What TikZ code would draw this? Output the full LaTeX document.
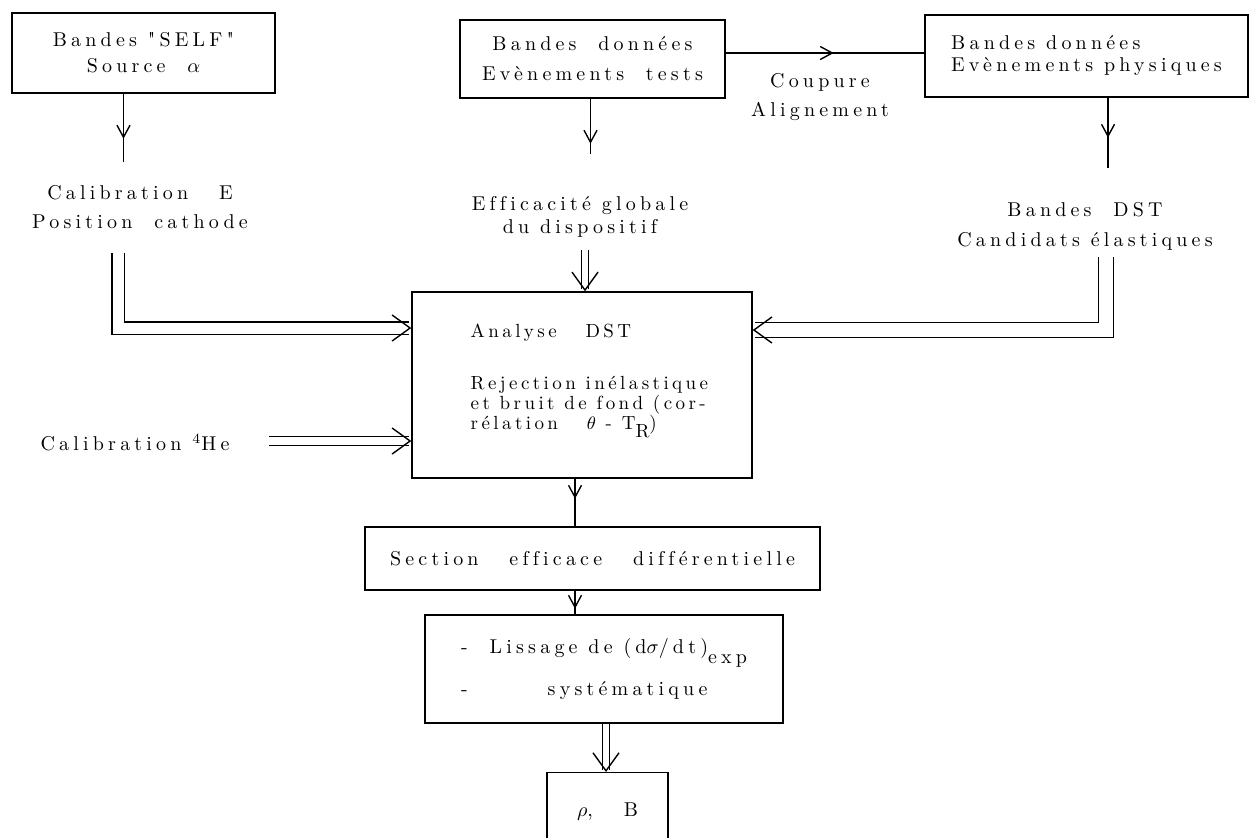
\documentclass[tikz,border=0pt]{standalone}
\usepackage{fontspec}
\usetikzlibrary{arrows.meta,decorations.markings}

\newfontfamily\typefam{lmroman10-regular.otf}[LetterSpace=21, Ligatures=NoCommon]
\newfontfamily\densefam{lmroman10-regular.otf}[LetterSpace=18, Ligatures=NoCommon]
\newcommand\typefont{\typefam\fontsize{10}{13}\selectfont}
\newcommand\densefont{\densefam\fontsize{9.5}{10}\selectfont}

\tikzset{
  box/.style={draw, align=center, inner sep=0pt},
  lbl/.style={align=center},
  midarr/.style={postaction={decorate},
    decoration={markings, mark=at position #1 with {\arrow{Straight Barb[length=6pt,width=6.5pt]}}}},
  dbl/.style={double, double distance=#1,
    -{Straight Barb[length=9pt,width=13pt,line width=0.7pt 0 0]}},
}

\begin{document}
\begin{tikzpicture}[x=0.5pt, y=-0.5pt, line width=0.7pt, font=\typefont]
 \useasboundingbox (0,0) rectangle (1251,837);

 % sources
 \node[box, minimum width=131.5pt, minimum height=40pt] (self) at (143.5,53)
   {Bandes "SELF"\\Source \ $\alpha$};
 \node[box, minimum width=132.5pt, minimum height=39pt] (tests) at (592.5,59)
   {Bandes \ données\\[2pt]Evènements \ tests};
 \node[box, align=left, minimum width=161.5pt, minimum height=41pt] (phys) at (1086.5,56)
   {Bandes données\\[-2pt]Evènements physiques};

 % intermediate results
 \node[lbl] (calE) at (140,207.5) {Calibration \quad E\\[1.5pt]Position \ cathode};
 \node[lbl] (eff) at (580,216.5) {Efficacité globale\\[-1.5pt]du dispositif};
 \node[lbl] (coup) at (820,97.5) {Coupure\\[1.5pt]Alignement};
 \node[lbl] (dst) at (1085,226) {Bandes \ DST\\[2pt]Candidats élastiques};
 \node (he) at (135,443) {Calibration ${}^4$He};

 % analysis chain
 \node[box, minimum width=170pt, minimum height=93pt] (ana) at (582,385) {};
 \node[align=left, anchor=north west, inner sep=0pt, font=\densefont] (anatxt) at (470,323)
   {Analyse \quad DST\\[16pt]Rejection inélastique\\et bruit de fond (cor-\\rélation \quad $\theta$ - T\raisebox{-4pt}{R})};
 \node[box, minimum width=227.5pt, minimum height=31.5pt] (sec) at (592.5,558.5)
   {Section \quad efficace \quad différentielle};
 \node[box, align=left, minimum width=179pt, minimum height=54pt] (lis) at (604,669)
   {-\hspace{11pt}Lissage de (d$\sigma$/dt)\raisebox{-5pt}[0pt][0pt]{exp}\\[8pt]-\hspace{40pt}systématique};
 \node[box, anchor=north, minimum width=60.5pt, inner ysep=15pt] (rho) at (607.5,772)
   {$\rho$, \quad B};

 % single arrows
 \draw[midarr=22.5pt, shorten >=8pt] ([xshift=-10pt]self.south) -- ([xshift=-10pt]self.south |- calE.north);
 \draw[midarr=22.5pt, shorten >=17.5pt] ([xshift=-1pt]tests.south) -- ([xshift=-1pt]tests.south |- eff.north);
 \draw[midarr=20pt, shorten >=13.5pt] ([xshift=10.75pt]phys.south) -- ([xshift=10.75pt]phys.south |- dst.north);
 \draw[midarr=54pt] ([yshift=3pt]tests.east) -- ([yshift=3pt]tests.east -| phys.west);
 \draw[midarr=10pt] ([xshift=-3.5pt]ana.south) -- ([xshift=-3.5pt]ana.south |- sec.north);
 \draw[midarr=9pt] ([xshift=-8.75pt]sec.south) -- ([xshift=-8.75pt]sec.south |- lis.north);

 % double arrows
 \draw[dbl=5.5pt, shorten <=8pt] ([xshift=-11pt]calE.south) |- ([yshift=28.5pt]ana.west);
 \draw[dbl=3pt, shorten <=3pt] ([xshift=2.5pt]eff.south) -- ([xshift=2.5pt]eff.south |- ana.north);
 \draw[dbl=7pt] ([xshift=10.5pt]dst.south) |- ([yshift=27.5pt]ana.east);
 \draw[dbl=4pt, shorten <=16pt] ([yshift=1pt]he.east) -- ([yshift=1pt]he.east -| ana.west);
 \draw[dbl=3pt] ([xshift=1pt]lis.south) -- ([xshift=1pt]lis.south |- rho.north);
\end{tikzpicture}
\end{document}
